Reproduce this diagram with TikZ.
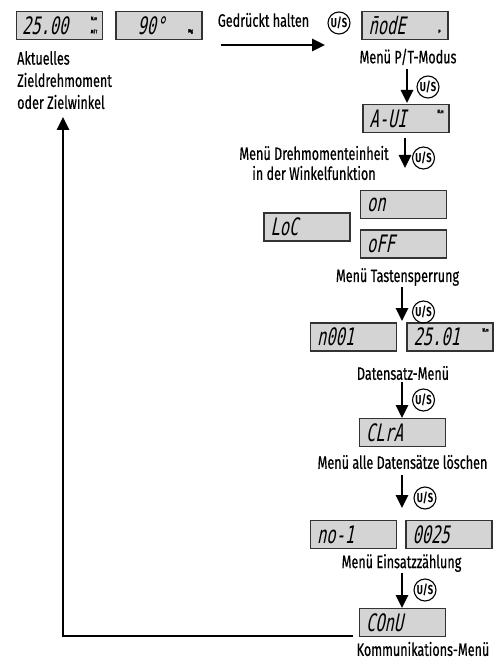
\documentclass[tikz,border=0pt]{standalone}
\usepackage{fontspec}
\setmainfont[FakeStretch=0.70, FakeBold=0.5]{Fira Sans}
\newfontfamily\lcdfont[FakeSlant=0.2, FakeStretch=0.64]{DejaVu Sans Mono}
\newfontfamily\btnfont[FakeStretch=0.72]{Fira Sans}
\usetikzlibrary{arrows.meta}
\begin{document}
\begin{tikzpicture}[x=1pt,y=-1pt,
 lcd/.style={draw=black!80, line width=1.1pt, fill=black!17, minimum width=86pt, minimum height=28pt, inner sep=0pt},
 lcdtxt/.style={font=\lcdfont\fontsize{24}{24}\selectfont, anchor=west, inner sep=0pt},
 unit/.style={font=\bfseries\fontsize{5}{5}\selectfont, inner sep=0pt},
 lbl/.style={font=\fontsize{18}{22}\selectfont, inner sep=0pt, align=center},
 usbtn/.style={circle, draw, line width=1.1pt, minimum size=22pt, inner sep=0pt, font=\btnfont\bfseries\fontsize{13}{13}\selectfont},
 flow/.style={line width=2.6pt, -{Triangle[length=13pt,width=12pt]}},
]
\path[use as bounding box] (0,0) rectangle (496,660);

% displays
\node[lcd] (b1) at (59.5,25.5) {};
\node[lcdtxt] at ([xshift=6pt]b1.west) {25.00};
\node[unit] at ([xshift=-9pt,yshift=7pt]b1.east) {N.m};
\node[unit] at ([xshift=-9pt,yshift=-6pt]b1.east) {M/T};

\node[lcd] (b2) at (159,25.5) {};
\node[lcdtxt] at ([xshift=22pt]b2.west) {90°};
\node[unit] at ([xshift=-12pt,yshift=-6pt]b2.east) {Mg};

\node[lcd] (bmode) at (405,25.5) {};
\node[lcdtxt] at ([xshift=7pt]bmode.west) {\=nodE};
\node[unit] at ([xshift=-9pt,yshift=-6pt]bmode.east) {P};

\node[lcd] (baui) at (406,118.5) {};
\node[lcdtxt] at ([xshift=7pt]baui.west) {A-UI};
\node[unit] at ([xshift=-9pt,yshift=7pt]baui.east) {N.m};

\node[lcd] (bloc) at (307,227) {};
\node[lcdtxt] at ([xshift=7pt]bloc.west) {LoC};
\node[lcd] (bon) at (403.5,204.5) {};
\node[lcdtxt] at ([xshift=7pt]bon.west) {on};
\node[lcd] (boff) at (403.5,244) {};
\node[lcdtxt] at ([xshift=7pt]boff.west) {oFF};

\node[lcd] (bn) at (353.5,337) {};
\node[lcdtxt] at ([xshift=7pt]bn.west) {n001};
\node[lcd] (bval) at (450,337) {};
\node[lcdtxt] at ([xshift=7pt]bval.west) {25.01};
\node[unit] at ([xshift=-8pt,yshift=7pt]bval.east) {N.m};

\node[lcd] (bclr) at (402.5,432.5) {};
\node[lcdtxt] at ([xshift=7pt]bclr.west) {CLrA};

\node[lcd] (bno) at (353.5,534.5) {};
\node[lcdtxt] at ([xshift=7pt]bno.west) {no-1};
\node[lcd] (bcnt) at (449,534.5) {};
\node[lcdtxt] at ([xshift=7pt]bcnt.west) {0025};

\node[lcd] (bcom) at (402.5,622.5) {};
\node[lcdtxt] at ([xshift=7pt]bcom.west) {COnU};

% labels
\node[lbl, align=left, anchor=west] (cur1) at (17,58) {Aktuelles};
\node[lbl, align=left, anchor=west] (cur2) at (17,80) {Zieldrehmoment};
\node[lbl, align=left, anchor=west] (cur3) at (17,102) {oder Zielwinkel};
\node[lbl] (hold) at (263.5,20) {Gedrückt halten};
\node[lbl] (lmode) at (408,57) {Menü P/T-Modus};
\node[lbl] (laui1) at (314,153) {Menü Drehmomenteinheit};
\node[lbl] (laui2) at (314,173) {in der Winkelfunktion};
\node[lbl] (ltast) at (397.5,277) {Menü Tastensperrung};
\node[lbl] (ldaten) at (403,373) {Datensatz-Menü};
\node[lbl] (lclr) at (402.5,462) {Menü alle Datensätze löschen};
\node[lbl] (leins) at (401.5,563) {Menü Einsatzzählung};
\node[lbl] (lcom) at (423,649) {Kommunikations-Menü};

% U/S buttons
\node[usbtn] (u0) at (339,23) {U/S};
\node[usbtn] (u1) at (428,87) {U/S};
\node[usbtn] (u2) at (423.5,158) {U/S};
\node[usbtn] (u3) at (423.5,312) {U/S};
\node[usbtn] (u4) at (423.5,400) {U/S};
\node[usbtn] (u5) at (425,498) {U/S};
\node[usbtn] (u6) at (425,590) {U/S};

% connectors
\coordinate (h1) at (221,45);
\coordinate (h2) at (325,45);
\draw[flow] (h1) -- (h2);

\coordinate (s1) at (407,69);
\coordinate (t1) at (407,103);
\draw[flow] (s1) -- (t1);

\coordinate (s2) at (405,138);
\coordinate (t2) at (405,168);
\draw[flow] (s2) -- (t2);

\coordinate (s3) at (402,287);
\coordinate (t3) at (402,321);
\draw[flow] (s3) -- (t3);

\coordinate (s4) at (402,382);
\coordinate (t4) at (402,418);
\draw[flow] (s4) -- (t4);

\coordinate (s5) at (402,475);
\coordinate (t5) at (402,508);
\draw[flow] (s5) -- (t5);

\coordinate (s6) at (402,573);
\coordinate (t6) at (402,608);
\draw[flow] (s6) -- (t6);

\coordinate (r0) at (353,636);
\coordinate (r1) at (63,117);
\draw[flow] (r0) -| (r1);
\end{tikzpicture}
\end{document}
